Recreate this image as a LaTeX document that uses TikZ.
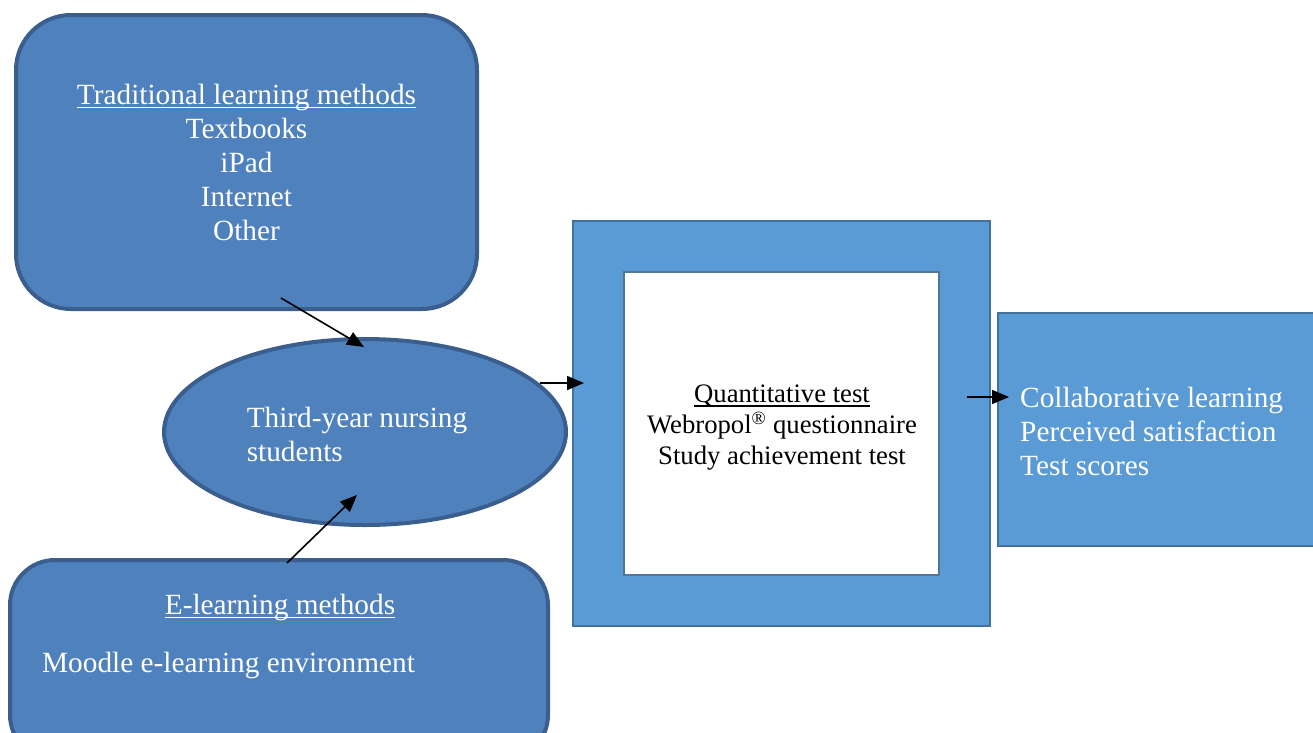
\documentclass[tikz,border=0pt]{standalone}
\usepackage{fontspec}
\setmainfont{Liberation Serif}
\usetikzlibrary{shapes.geometric,arrows.meta}
\definecolor{darkfill}{HTML}{4F81BD}
\definecolor{darkedge}{HTML}{3A5F8E}
\definecolor{lightfill}{HTML}{5B9BD5}
\definecolor{lightedge}{HTML}{41719C}
\newcommand\myul[1]{\setbox0\hbox{#1}\rlap{\rule[-4pt]{\wd0}{1.5pt}}\box0}
\tikzset{
  bigtext/.style={font=\fontsize{29.3}{34}\selectfont},
  midtext/.style={font=\fontsize{26.7}{31}\selectfont},
  roundbox/.style={draw=darkedge, fill=darkfill, line width=4pt, text=white, inner sep=0pt},
  lightbox/.style={draw=lightedge, fill=lightfill, inner sep=0pt},
  arr/.style={line width=1.6pt, -{Triangle[length=17pt,width=14pt]}},
}
\begin{document}
\begin{tikzpicture}[x=1pt,y=-1pt]
\useasboundingbox (0,0) rectangle (1313,732);
\clip (0,0) rectangle (1313,732);
% top rounded box
\node[roundbox, rounded corners=55pt, minimum width=461pt, minimum height=294pt, bigtext, align=center] (trad) at (246.5,162)
  {\myul{Traditional learning methods}\\Textbooks\\iPad\\Internet\\Other};
% ellipse
\node[roundbox, ellipse, minimum width=402pt, minimum height=186pt] (stud) at (365,432) {};
\node[bigtext, text=white, align=left, inner sep=0pt] (studtxt) at (357,434) {Third-year nursing\\students};
% bottom rounded box
\node[roundbox, rounded corners=45pt, minimum width=538pt, minimum height=200pt] (elearn) at (279,660) {};
\node[bigtext, text=white, anchor=base, inner sep=0pt] (eltitle) at (280,614) {\myul{E-learning methods}};
\node[bigtext, text=white, anchor=base west, inner sep=0pt] (elmoodle) at (42,672) {Moodle e-learning environment};
% center boxes
\node[lightbox, line width=2pt, minimum width=417pt, minimum height=405pt] (outer) at (781.5,423.5) {};
\node[draw=lightedge!70!gray, fill=white, line width=1.5pt, minimum width=315pt, minimum height=303pt, inner sep=0pt] (inner) at (781.5,423.5) {};
\node[midtext, align=center, inner sep=0pt] (quant) at (782,428)
  {\myul{Quantitative test}\\Webropol\textsuperscript{®} questionnaire\\Study achievement test};
% right box
\node[lightbox, line width=2.5pt, minimum width=340pt, minimum height=233pt] (result) at (1168,429.5) {};
\node[bigtext, text=white, align=left, anchor=west, inner sep=0pt] (restxt) at (1020,431)
  {Collaborative learning\\Perceived satisfaction\\Test scores};
% connectors
\coordinate (a1) at (281,298);
\coordinate (a1e) at (364,347);
\coordinate (a2) at (287,563);
\coordinate (a2e) at (357,495);
\coordinate (a3) at (540,383);
\coordinate (a3e) at (584,383);
\coordinate (a4) at (967,397);
\coordinate (a4e) at (1009,397);
\draw[arr] (a1) -- (a1e);
\draw[arr] (a2) -- (a2e);
\draw[arr] (a3) -- (a3e);
\draw[arr] (a4) -- (a4e);
\end{tikzpicture}
\end{document}
